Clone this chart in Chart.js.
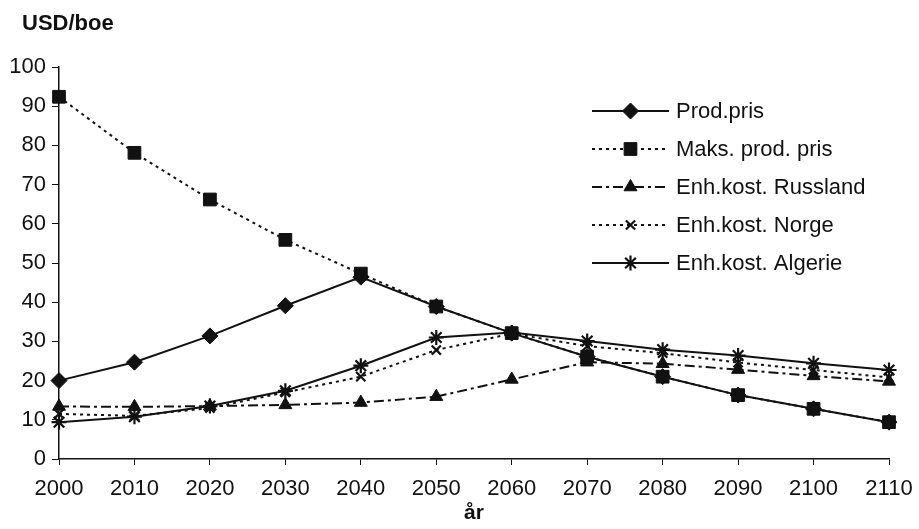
<!DOCTYPE html>
<html>
<head>
<meta charset="utf-8">
<script src="https://cdn.jsdelivr.net/npm/chart.js@4/dist/chart.umd.min.js"></script>
<style>
  html, body { margin: 0; padding: 0; background: #fff; }
  #wrap { width: 919px; height: 529px; }
</style>
</head>
<body>
<div id="wrap"><canvas id="c" width="919" height="529"></canvas></div>
<script>
const years = ['2000','2010','2020','2030','2040','2050','2060','2070','2080','2090','2100','2110'];
const yTicks = [0, 10, 20, 30, 40, 50, 60, 70, 80, 90, 100];

const prodPris     = [20.0, 24.7, 31.4, 39.1, 46.4, 38.9, 32.1, 26.1, 21.0, 16.3, 12.8, 9.4];
const maksProdPris = [92.4, 78.1, 66.2, 55.9, 47.3, 38.9, 32.1, 26.1, 21.0, 16.3, 12.8, 9.4];
const russland     = [13.4, 13.3, 13.5, 13.8, 14.4, 15.9, 20.3, 24.7, 24.3, 22.8, 21.2, 19.8];
const norge        = [11.5, 11.0, 13.0, 17.0, 21.0, 27.8, 32.0, 28.8, 27.0, 24.6, 22.7, 20.8];
const algerie      = [9.4, 10.8, 13.5, 17.4, 23.8, 31.0, 32.3, 30.1, 27.9, 26.4, 24.4, 22.7];

const seriesNames = ['Prod.pris', 'Maks. prod. pris', 'Enh.kost. Russland', 'Enh.kost. Norge', 'Enh.kost. Algerie'];

const FONT = '"Liberation Sans", Arial, Helvetica, sans-serif';
const INK = '#111';

function ds(label, data, pointStyle, radius, dash, pbw) {
  return {
    label, data,
    borderColor: INK, backgroundColor: INK,
    pointBackgroundColor: INK, pointBorderColor: INK,
    borderWidth: 2, borderDash: dash,
    pointStyle, pointRadius: radius, pointHoverRadius: radius,
    pointBorderWidth: pbw, tension: 0, fill: false
  };
}

const datasets = [
  ds(seriesNames[0], prodPris, 'rectRot', 8, [], 1),
  ds(seriesNames[1], maksProdPris, 'rect', 9, [3, 4], 1),
  ds(seriesNames[2], russland, 'triangle', 7.5, [10, 4, 3, 4], 1),
  ds(seriesNames[3], norge, 'crossRot', 6.5, [3, 4], 2.2),
  ds(seriesNames[4], algerie, 'star', 7.5, [], 2.2)
];

// Legend drawn inside the plot, plus the unit label in the top-left corner
const overlay = {
  id: 'overlay',
  afterDatasetsDraw(chart) {
    const ctx = chart.ctx;
    ctx.save();
    ctx.fillStyle = INK;
    ctx.font = 'bold 22px ' + FONT;
    ctx.textAlign = 'left';
    ctx.textBaseline = 'middle';
    ctx.fillText('USD/boe', 22, 24);

    const x0 = 592, x1 = 669, tx = 676, y0 = 111, step = 38;
    chart.data.datasets.forEach((d, i) => {
      const y = y0 + i * step;
      ctx.strokeStyle = INK;
      ctx.lineWidth = 2;
      ctx.setLineDash(d.borderDash || []);
      ctx.beginPath();
      ctx.moveTo(x0, y);
      ctx.lineTo(x1, y);
      ctx.stroke();
      ctx.setLineDash([]);
      ctx.fillStyle = INK;
      ctx.lineWidth = d.pointBorderWidth;
      Chart.helpers.drawPoint(ctx, {
        pointStyle: d.pointStyle, radius: d.pointRadius, rotation: 0, borderWidth: d.pointBorderWidth
      }, (x0 + x1) / 2, y);
      ctx.fillStyle = INK;
      ctx.font = '22px ' + FONT;
      ctx.textBaseline = 'middle';
      ctx.fillText(d.label, tx, y + 1);
    });
    ctx.restore();
  }
};

new Chart(document.getElementById('c'), {
  type: 'line',
  data: { labels: years, datasets },
  options: {
    responsive: false,
    animation: false,
    events: [],
    layout: { padding: { top: 67, right: 30, left: 0, bottom: 0 } },
    plugins: { legend: { display: false }, tooltip: { enabled: false }, title: { display: false } },
    scales: {
      x: {
        type: 'category',
        offset: false,
        border: { color: INK, width: 1.5 },
        grid: { drawOnChartArea: false, color: INK, tickLength: 6, lineWidth: 1 },
        ticks: { color: INK, font: { family: FONT, size: 22 }, padding: 11, maxRotation: 0, autoSkip: false },
        title: { display: true, text: 'år', color: INK, font: { family: FONT, size: 21, weight: 'bold' }, padding: { top: 0, bottom: 3 } },
        afterFit(s) { s.height = 70; s.paddingLeft = 0; s.paddingRight = 0; }
      },
      y: {
        min: 0, max: 100,
        afterBuildTicks(s) { s.ticks = yTicks.map(v => ({ value: v })); },
        border: { color: INK, width: 1.5 },
        grid: { drawOnChartArea: false, color: INK, tickLength: 7, lineWidth: 1 },
        ticks: { color: INK, font: { family: FONT, size: 22 }, padding: 6 },
        afterFit(s) { s.width = 59; s.paddingTop = 0; s.paddingBottom = 0; }
      }
    }
  },
  plugins: [overlay]
});
</script>
</body>
</html>
